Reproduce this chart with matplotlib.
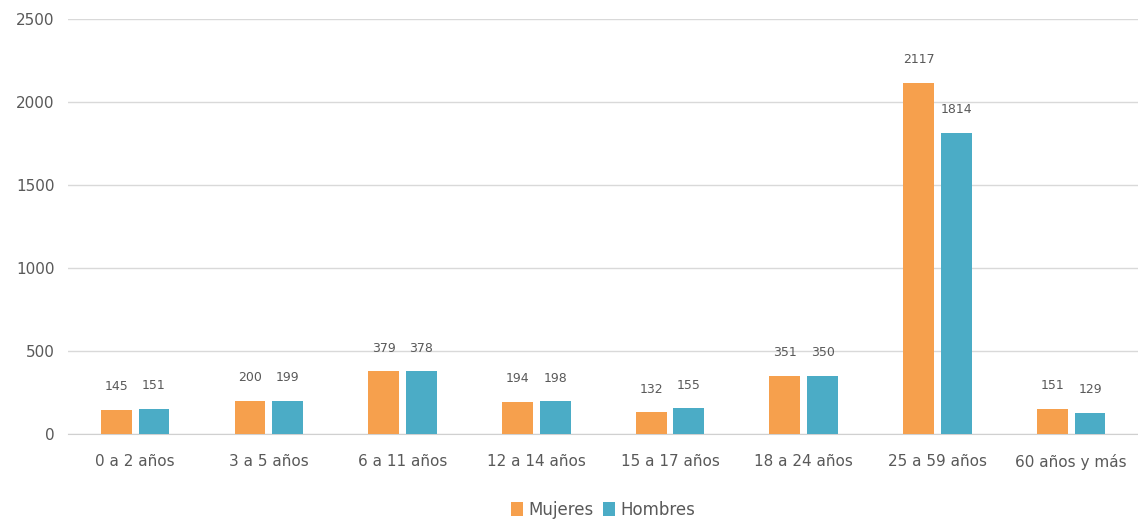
import numpy as np
import matplotlib.pyplot as plt

categorias = ['0 a 2 años', '3 a 5 años', '6 a 11 años', '12 a 14 años',
              '15 a 17 años', '18 a 24 años', '25 a 59 años', '60 años y más']
mujeres = [145, 200, 379, 194, 132, 351, 2117, 151]
hombres = [151, 199, 378, 198, 155, 350, 1814, 129]

color_muj = '#F6A04D'
color_hom = '#4BACC6'
gris = '#595959'

fig = plt.figure(figsize=(11.38, 5.25), dpi=100)
ax = fig.add_axes([0.06, 0.173, 0.94, 0.791])

x = np.arange(len(categorias))
width = 0.23
gap = 0.026

b1 = ax.bar(x - width/2 - gap, mujeres, width, color=color_muj, label='Mujeres', zorder=3)
b2 = ax.bar(x + width/2 + gap, hombres, width, color=color_hom, label='Hombres', zorder=3)

ax.bar_label(b1, padding=12, fontsize=9, color=gris)
ax.bar_label(b2, padding=12, fontsize=9, color=gris)

ax.set_ylim(0, 2500)
ax.set_yticks(range(0, 2501, 500))
ax.set_xlim(-0.5, len(categorias) - 0.5)
ax.set_xticks(x)
ax.set_xticklabels(categorias)
ax.tick_params(axis='both', length=0, labelsize=11, colors=gris)
ax.tick_params(axis='x', pad=14)
ax.tick_params(axis='y', pad=10)

ax.grid(axis='y', color='#D9D9D9', linewidth=1, zorder=0)
for s in ['top', 'right', 'left']:
    ax.spines[s].set_visible(False)
ax.spines['bottom'].set_color('#D0D0D0')

ax.legend(loc='upper center', bbox_to_anchor=(0.5, -0.125), ncol=2, frameon=False,
          fontsize=12, labelcolor=gris, handlelength=0.7, handleheight=0.9,
          handletextpad=0.3, columnspacing=0.6)

plt.savefig('out.png', dpi=100)
